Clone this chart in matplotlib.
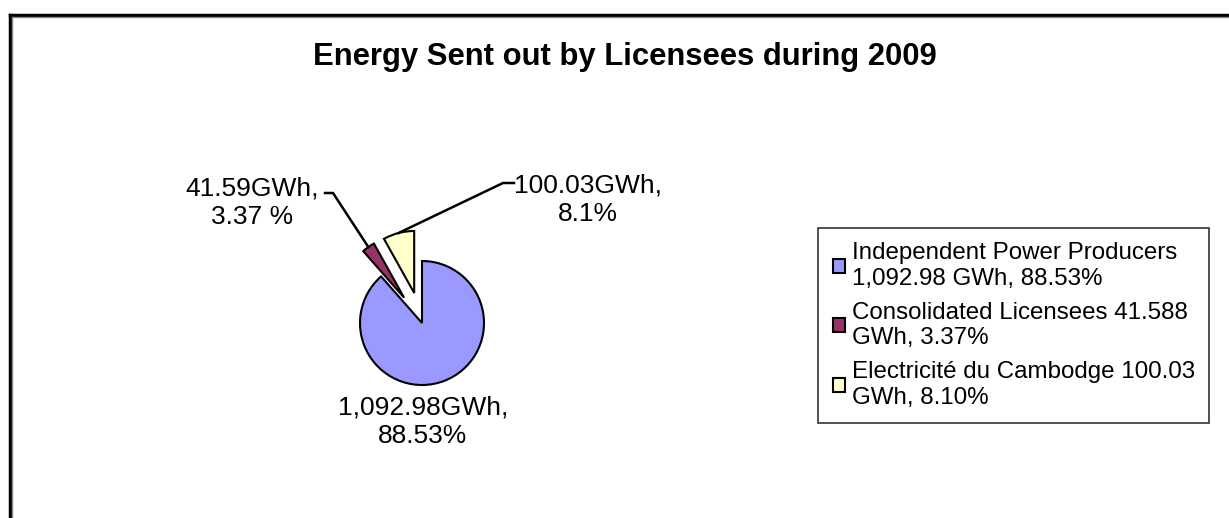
import numpy as np
import matplotlib.pyplot as plt
from matplotlib.lines import Line2D

plt.rcParams['font.family'] = ['Liberation Sans', 'DejaVu Sans']

# data
sources = ['Independent Power Producers', 'Consolidated Licensees', 'Electricité du Cambodge']
energy_gwh = [1092.98, 41.588, 100.03]
share_pct = [88.53, 3.37, 8.10]
slice_labels = ['1,092.98GWh,\n88.53%', '41.59GWh,\n3.37 %', '100.03GWh,\n8.1%']
legend_labels = ['Independent Power Producers\n1,092.98 GWh, 88.53%',
                 'Consolidated Licensees 41.588\nGWh, 3.37%',
                 'Electricité du Cambodge 100.03\nGWh, 8.10%']
colors = ['#9999FF', '#993366', '#FFFFCC']
explode = [0, 0.5, 0.5]

W, H = 1229, 518
fig = plt.figure(figsize=(W / 100, H / 100), dpi=100)

# chart frame (cut off at right and bottom)
fx, fy = 9.5 / W, 1 - 14.5 / H
fig.add_artist(Line2D([fx, fx], [-0.1, fy], color='black', lw=2.5, transform=fig.transFigure))
fig.add_artist(Line2D([fx, 1.1], [fy, fy], color='black', lw=2.5, transform=fig.transFigure))
fig.add_artist(Line2D([fx + 2 / W, fx + 2 / W], [-0.1, fy - 2 / H], color='#888888', lw=1,
                      transform=fig.transFigure))
fig.add_artist(Line2D([fx + 2 / W, 1.1], [fy - 2 / H, fy - 2 / H], color='#888888', lw=1,
                      transform=fig.transFigure))

fig.text(625 / W, 1 - 57 / H, 'Energy Sent out by Licensees during 2009',
         ha='center', va='center', fontsize=22.3, fontweight='bold')

# pie axes: center (422, 323) px, radius 62 px
cx, cy, r = 422, 323, 62
half = 200
ax = fig.add_axes([(cx - half) / W, (H - cy - half) / H, 2 * half / W, 2 * half / H])
lim = half / r
ax.set_aspect('equal')
ax.axis('off')

wedges, _ = ax.pie(energy_gwh, colors=colors, explode=explode, startangle=90,
                   counterclock=False, radius=1,
                   wedgeprops=dict(edgecolor='black', linewidth=1.5))
ax.set_xlim(-lim, lim)
ax.set_ylim(-lim, lim)

# label positions in px (layout), leader elbows
label_pos = [(423, 422), (252, 203), (588, 200)]
elbows = [None, ((325, 193), (333, 193)), ((514, 183), (503, 183))]


def px2d(p):
    return ((p[0] - cx) / r, (cy - p[1]) / r)


for i, w in enumerate(wedges):
    lx, ly = px2d(label_pos[i])
    ax.text(lx, ly, slice_labels[i], ha='center', va='center', fontsize=19,
            linespacing=1.25)
    if elbows[i] is not None:
        mid = np.radians((w.theta1 + w.theta2) / 2)
        ox, oy = w.center
        tip = (ox + np.cos(mid), oy + np.sin(mid))
        a = px2d(elbows[i][0])
        b = px2d(elbows[i][1])
        ax.plot([a[0], b[0], tip[0]], [a[1], b[1], tip[1]], color='black', lw=1.8,
                solid_joinstyle='miter')

leg = fig.legend(wedges, legend_labels, loc='lower left',
                 bbox_to_anchor=(818 / W, (H - 423) / H), fontsize=17.4,
                 frameon=True, fancybox=False, edgecolor='black', handlelength=0.5,
                 handleheight=0.5, handletextpad=0.3, labelspacing=0.5,
                 borderpad=0.6, borderaxespad=0)
leg.get_frame().set_linewidth(1.2)
plt.setp(leg.get_texts(), linespacing=1.2)
for h in leg.legend_handles:
    h.set_linewidth(1.5)

fig.savefig('out.png', dpi=100)
